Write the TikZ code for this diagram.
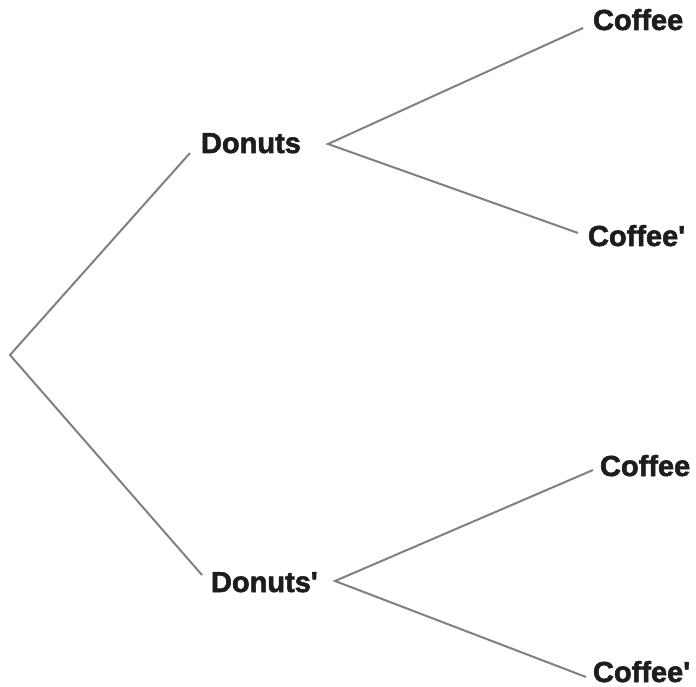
\documentclass[tikz,border=0pt]{standalone}
\usepackage{fontspec}
\newfontfamily\lab{Liberation Sans}[BoldFeatures={FakeBold=2}]
\definecolor{linegray}{RGB}{128,128,128}
\definecolor{txt}{RGB}{30,28,29}
\begin{document}
\begin{tikzpicture}[x=1pt,y=-1pt,
  branch/.style={draw=linegray,line width=2pt},
  lbl/.style={anchor=base west,inner sep=0pt,outer sep=0pt,text=txt,font=\lab\bfseries\fontsize{29}{30}\selectfont}]
\useasboundingbox (0,0) rectangle (696,687);
% labels
\node[lbl] (d1) at (201,153) {Donuts};
\node[lbl] (d2) at (211,592) {Donuts'};
\node[lbl] (c1) at (593,30) {Coffee};
\node[lbl] (c2) at (588,246) {Coffee'};
\node[lbl] (c3) at (600,476) {Coffee};
\node[lbl] (c4) at (593,682) {Coffee'};
% branch points
\coordinate (r) at (10,355);
\coordinate (d1in) at (190,153);
\coordinate (d2in) at (202,575);
\coordinate (d1out) at (328,144);
\coordinate (d2out) at (335,581);
\coordinate (c1in) at (583,28);
\coordinate (c2in) at (578,233);
\coordinate (c3in) at (593,470);
\coordinate (c4in) at (586,677);
\draw[branch] (d1in) -- (r) -- (d2in);
\draw[branch] (c1in) -- (d1out) -- (c2in);
\draw[branch] (c3in) -- (d2out) -- (c4in);
\end{tikzpicture}
\end{document}
